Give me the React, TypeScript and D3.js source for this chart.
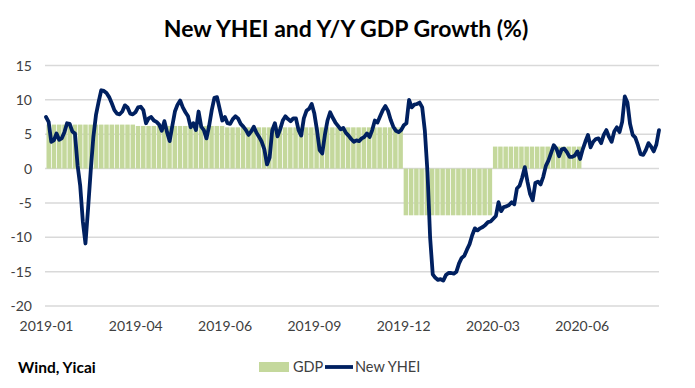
import React from 'react';
import * as d3 from 'd3';

// quarterly GDP growth (%), one value per quarter
const GDP_QUARTERS = ['2019Q1', '2019Q2', '2019Q3', '2019Q4', '2020Q1', '2020Q2'];
const GDP_VALUES = [6.4, 6.2, 6.0, 6.0, -6.8, 3.2];
const BARS_PER_QUARTER = 17;
const CATEGORY_COUNT = 117;

const X_LABELS = ['2019-01', '2019-04', '2019-06', '2019-09', '2019-12', '2020-03', '2020-06'];
const Y_TICKS = [15, 10, 5, 0, -5, -10, -15, -20];

// New YHEI
const YHEI = [
  7.5, 6.8, 3.9, 4.1, 5.1, 4.2, 4.4, 5.3, 6.6, 6.5, 5.4, 5.1, 0.5, -2.5, -7.7, -10.9, -5.8, -0.3, 4.6, 7.8,
  9.7, 11.4, 11.3, 11.0, 10.4, 9.5, 8.5, 8.0, 7.9, 8.3, 9.2, 8.9, 8.0, 7.9, 8.2, 8.9, 9.0, 8.5, 6.6, 7.3,
  7.5, 7.0, 6.8, 6.4, 5.5, 6.9, 5.3, 4.0, 6.2, 8.3, 9.3, 9.9, 8.9, 8.2, 7.6, 6.0, 6.6, 5.6, 8.3, 6.1,
  5.6, 4.4, 6.2, 8.5, 10.3, 10.4, 8.7, 7.0, 7.5, 6.6, 6.5, 7.2, 7.6, 7.3, 6.5, 6.1, 5.6, 4.9, 5.4, 6.1,
  5.2, 4.6, 3.9, 2.8, 0.6, 1.6, 5.6, 6.6, 4.7, 5.7, 7.0, 7.6, 7.2, 6.9, 7.3, 7.3, 5.6, 4.8, 7.3, 8.4,
  8.7, 9.4, 8.0, 5.6, 2.7, 2.2, 4.9, 7.0, 8.2, 7.4, 6.7, 6.2, 5.7, 5.9, 5.2, 4.8, 4.3, 3.9, 4.1, 4.0,
  4.4, 4.6, 5.1, 4.6, 5.6, 7.0, 6.7, 7.6, 8.5, 9.1, 8.4, 7.1, 6.1, 5.5, 5.3, 5.6, 6.3, 6.6, 10.0, 8.9,
  9.3, 9.4, 9.6, 8.9, 5.5, -0.5, -10.0, -15.4, -15.9, -16.2, -16.1, -16.3, -15.5, -15.2, -15.2, -15.3, -15.0, -13.8, -13.0, -12.7,
  -11.8, -11.0, -9.7, -8.7, -9.0, -8.7, -8.5, -8.2, -7.8, -7.7, -7.3, -6.9, -4.9, -6.2, -5.6, -5.5, -5.3, -4.9, -5.2, -2.9,
  -2.5, -1.3, 0.2, -1.9, -3.7, -4.6, -2.1, -1.9, -2.3, -1.2, 0.4, 1.2, 2.3, 3.4, 2.9, 1.8, 2.8, 2.9, 2.4, 1.7,
  1.7, 1.9, 2.5, 1.4, 2.8, 3.9, 4.9, 3.1, 3.9, 4.3, 4.4, 3.7, 4.9, 5.6, 4.6, 3.9, 5.4, 6.0, 5.3, 6.8,
  10.5, 9.6, 6.5, 4.9, 4.5, 3.4, 2.1, 2.0, 2.7, 3.7, 3.2, 2.5, 3.5, 5.6,
];

const W = 695;
const H = 388;
const PLOT_LEFT = 45;
const PLOT_RIGHT = 659;
const FONT = 'Lato, "Open Sans", sans-serif';
const NAVY = '#002060';
const GREEN = '#c4d89c';

const App: React.FC = () => {
  const y = d3.scaleLinear().domain([-20, 15]).range([306, 65.5]);

  const xBand = d3.scaleBand<number>()
    .domain(d3.range(CATEGORY_COUNT))
    .range([46.5, 661])
    .paddingInner(0.2)
    .paddingOuter(0.1);
  const step = xBand.step();

  const xLine = d3.scaleLinear().domain([0, YHEI.length - 1]).range([46, 659]);

  const bars = d3.range(GDP_VALUES.length * BARS_PER_QUARTER).map((i) => ({
    i,
    v: GDP_VALUES[Math.floor(i / BARS_PER_QUARTER)],
    q: GDP_QUARTERS[Math.floor(i / BARS_PER_QUARTER)],
  }));

  const line = d3.line<number>()
    .x((_, i) => xLine(i))
    .y((d) => y(d))
    .curve(d3.curveLinear);

  return (
    <svg width={W} height={H} style={{ position: 'absolute', left: 0, top: 0, background: '#fff' }}>
      <text x={346} y={37} textAnchor="middle" fontFamily={FONT} fontWeight={700} fontSize={23} fill="#000">
        New YHEI and Y/Y GDP Growth (%)
      </text>

      {/* gridlines */}
      {Y_TICKS.map((t) => (
        <line key={t} x1={PLOT_LEFT} x2={PLOT_RIGHT} y1={y(t)} y2={y(t)} stroke="#d9d9d9" strokeWidth={1.5} />
      ))}

      {/* GDP bars */}
      {bars.map((b) => (
        <rect
          key={b.i}
          x={xBand(b.i)! - step * 0.1}
          width={step * 0.85}
          y={y(Math.max(0, b.v))}
          height={Math.abs(y(b.v) - y(0))}
          fill={GREEN}
        />
      ))}

      {/* New YHEI */}
      <path d={line(YHEI) || ''} fill="none" stroke={NAVY} strokeWidth={3.8} strokeLinejoin="round" strokeLinecap="round" />

      {/* y axis labels */}
      {Y_TICKS.map((t) => (
        <text key={t} x={32} y={y(t) + 5} textAnchor="end" fontFamily={FONT} fontSize={14} fill="#404040">
          {t}
        </text>
      ))}

      {/* x axis labels */}
      {X_LABELS.map((l, k) => (
        <text key={l} x={xBand(k * BARS_PER_QUARTER)! - step * 0.1} y={331} textAnchor="middle" fontFamily={FONT} fontSize={14} fill="#404040">
          {l}
        </text>
      ))}

      {/* source */}
      <text x={18} y={373} fontFamily={FONT} fontWeight={700} fontSize={15.5} fill="#000">
        Wind, Yicai
      </text>

      {/* legend */}
      <rect x={259} y={362} width={30} height={10} fill={GREEN} />
      <text x={293} y={372} fontFamily={FONT} fontSize={14.5} fill="#404040">GDP</text>
      <line x1={325} x2={353} y1={367} y2={367} stroke={NAVY} strokeWidth={3.8} />
      <text x={355} y={372} fontFamily={FONT} fontSize={14.5} fill="#404040">New YHEI</text>
    </svg>
  );
};

export default App;
